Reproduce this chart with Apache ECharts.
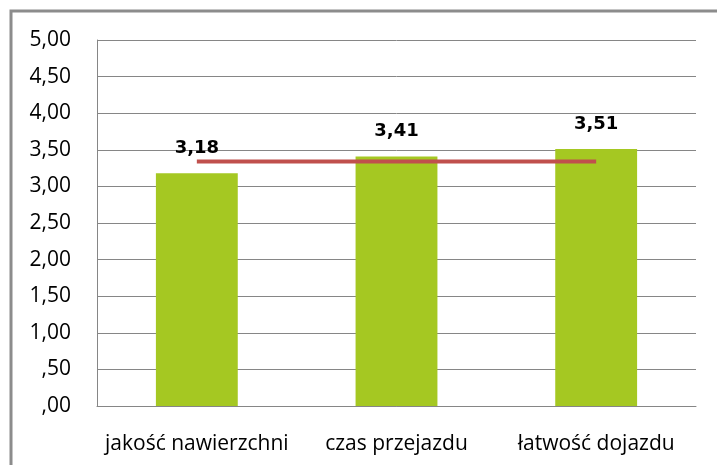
<!DOCTYPE html>
<html>
<head>
<meta charset="utf-8">
<script src="https://cdn.jsdelivr.net/npm/echarts@6/dist/echarts.min.js"></script>
<style>
  html, body { margin: 0; padding: 0; background: #fff; }
  #chart { width: 717px; height: 465px; }
</style>
</head>
<body>
<div id="chart"></div>
<script>
// categories and values
const categories = ["jakość nawierzchni", "czas przejazdu", "łatwość dojazdu"];
const scores = [3.18, 3.41, 3.51];
const meanLine = [3.34, 3.34, 3.34];
const yTicks = [0, 0.5, 1, 1.5, 2, 2.5, 3, 3.5, 4, 4.5, 5];

function fmt(v) {
  // polish style: comma decimal, no leading zero
  let s = v.toFixed(2).replace(".", ",");
  if (s.startsWith("0,")) s = s.slice(1);
  return s;
}

let chart = echarts.init(document.getElementById("chart"));
chart.setOption({
  animation: false,
  backgroundColor: "#fff",
  textStyle: { fontFamily: "Open Sans" },
  graphic: [{
    type: "rect",
    shape: { x: 11, y: 11, width: 760, height: 520 },
    style: { fill: "none", stroke: "#8c8c8c", lineWidth: 3 }
  }],
  grid: { left: 97, top: 40, right: 21, bottom: 59 },
  xAxis: {
    type: "category",
    data: categories,
    axisLine: { lineStyle: { color: "#868686", width: 1 } },
    axisTick: { show: false },
    axisLabel: {
      color: "#000",
      fontSize: 21,
      margin: 28,
      interval: 0,
      hideOverlap: false,
      fontFamily: "Open Sans"
    }
  },
  yAxis: {
    type: "value",
    min: yTicks[0],
    max: yTicks[yTicks.length - 1],
    interval: 0.5,
    axisLine: { show: true, lineStyle: { color: "#868686", width: 1 } },
    axisTick: { show: false },
    splitLine: { lineStyle: { color: "#868686", width: 1 } },
    axisLabel: {
      color: "#000",
      fontSize: 21,
      margin: 26,
      fontFamily: "Open Sans",
      formatter: fmt
    }
  },
  series: [
    {
      type: "bar",
      data: scores,
      barWidth: "41%",
      itemStyle: { color: "#a5c822" },
      label: {
        show: true,
        position: "top",
        distance: 16,
        color: "#000",
        fontWeight: "bold",
        fontSize: 18,
        fontFamily: "DejaVu Sans",
        formatter: p => fmt(p.value)
      }
    },
    {
      type: "line",
      data: meanLine,
      symbol: "none",
      z: 5,
      lineStyle: { color: "#c0504d", width: 4 }
    }
  ]
});
</script>
</body>
</html>
